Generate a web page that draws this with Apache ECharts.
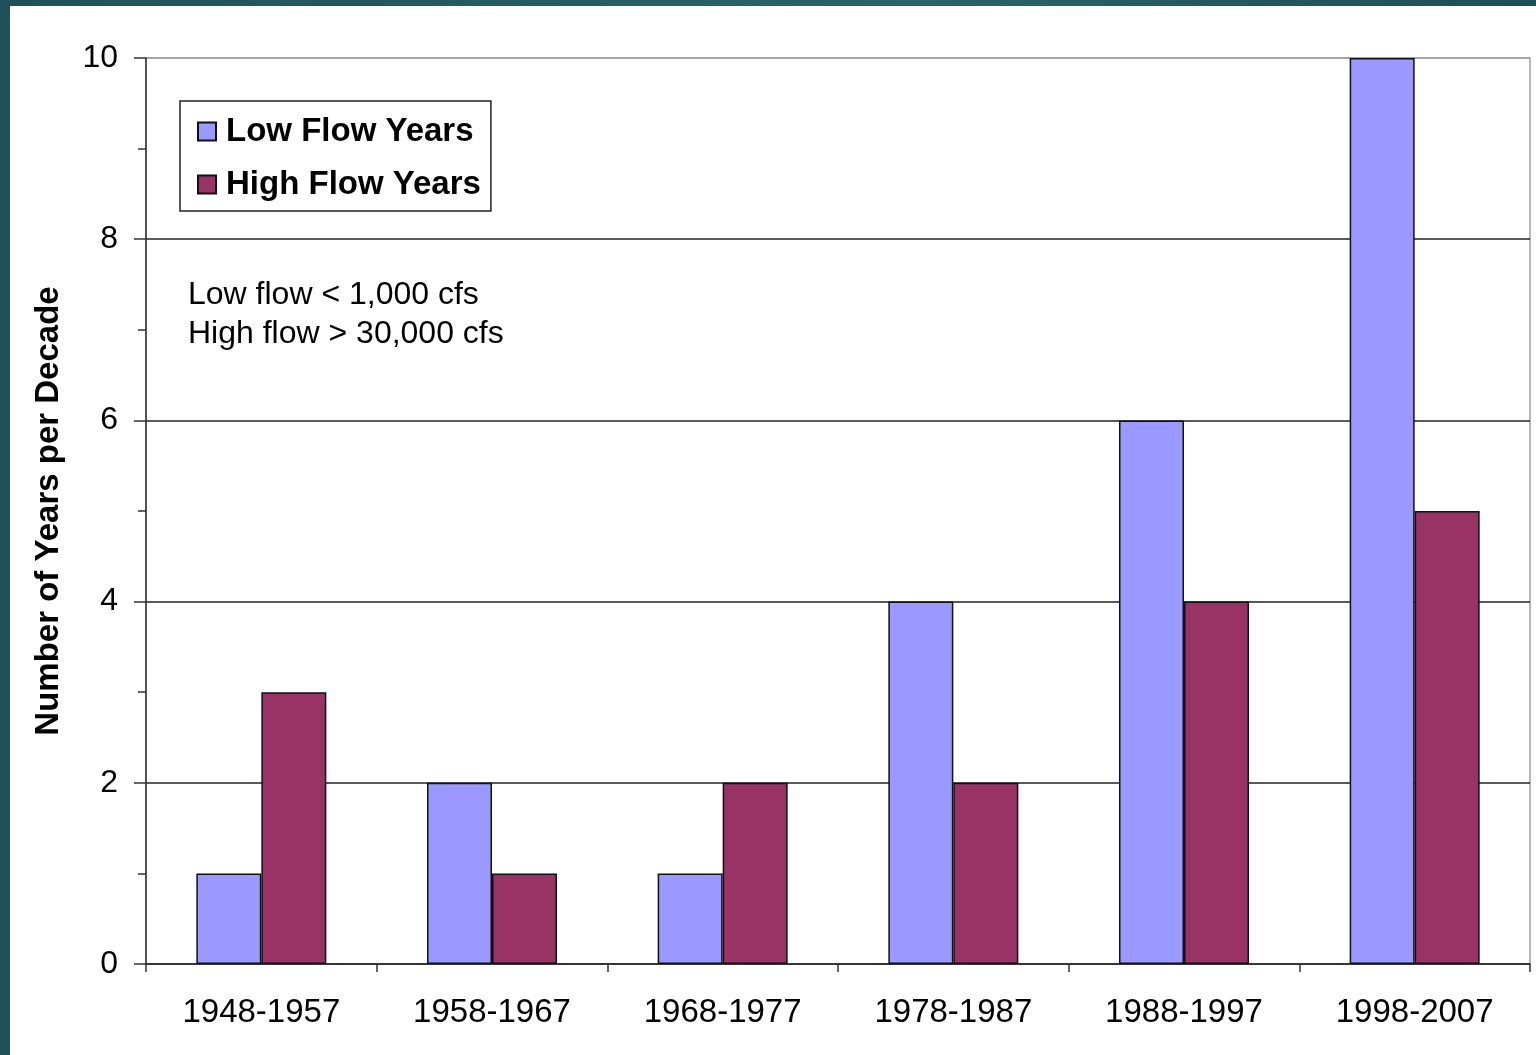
<!DOCTYPE html>
<html>
<head>
<meta charset="utf-8">
<script src="https://cdn.jsdelivr.net/npm/echarts@6/dist/echarts.min.js"></script>
<style>
  html, body { margin: 0; padding: 0; width: 1536px; height: 1055px; overflow: hidden; }
  body { background: linear-gradient(90deg, #1f5258 0%, #2a6466 60%, #1e4f55 100%); position: relative; }
  #chart { position: absolute; left: 10px; top: 6px; width: 1526px; height: 1049px; background: #ffffff; }
</style>
</head>
<body>
<div id="chart"></div>
<script>
// Decades on the category axis
const categories = ['1948-1957', '1958-1967', '1968-1977', '1978-1987', '1988-1997', '1998-2007'];
// Years per decade with low / high flow
const lowFlowYears = [1, 2, 1, 4, 6, 10];
const highFlowYears = [3, 1, 2, 2, 4, 5];
// Notes on the thresholds used
const noteLines = ['Low flow < 1,000 cfs', 'High flow > 30,000 cfs'];

const FONT = 'Arial, "Liberation Sans", Helvetica, sans-serif';

const chart = echarts.init(document.getElementById('chart'), null, { renderer: 'canvas' });

chart.setOption({
  animation: false,
  backgroundColor: '#ffffff',
  textStyle: { fontFamily: FONT, color: '#000' },
  grid: {
    left: 136, right: 6, top: 52, bottom: 91,
    show: true, borderColor: '#a0a0a0', borderWidth: 1.5, backgroundColor: '#ffffff'
  },
  legend: {
    orient: 'vertical',
    left: 170, top: 95,
    padding: [14, 10, 10, 17],
    itemGap: 20,
    itemWidth: 18, itemHeight: 18,
    borderColor: '#222', borderWidth: 1.5,
    backgroundColor: '#ffffff',
    icon: 'rect',
    textStyle: { fontFamily: FONT, fontSize: 33, fontWeight: 'bold', color: '#000', padding: [0, 0, 0, 5] },
    data: ['Low Flow Years', 'High Flow Years']
  },
  xAxis: {
    type: 'category',
    data: categories,
    boundaryGap: true,
    axisLine: { lineStyle: { color: '#333', width: 1.5 } },
    axisTick: { show: true, alignWithLabel: false, length: 8, lineStyle: { color: '#333', width: 1.5 } },
    axisLabel: { fontFamily: FONT, fontSize: 33, color: '#000', margin: 32, interval: 0 },
    splitLine: { show: false }
  },
  yAxis: {
    type: 'value',
    min: 0, max: 10, interval: 2,
    name: 'Number of Years per Decade',
    nameLocation: 'middle',
    nameGap: 81,
    nameRotate: 90,
    nameTextStyle: { fontFamily: FONT, fontSize: 33, fontWeight: 'bold', color: '#000' },
    axisLine: { show: true, lineStyle: { color: '#333', width: 1.5 } },
    axisTick: { show: true, length: 12, lineStyle: { color: '#333', width: 1.5 } },
    minorTick: { show: true, splitNumber: 2, length: 8, lineStyle: { color: '#333', width: 1.5 } },
    axisLabel: { fontFamily: FONT, fontSize: 32, color: '#000', margin: 28 },
    splitLine: {
      show: true,
      lineStyle: { color: ['#222', '#222', '#222', '#222', '#222', '#a0a0a0'], width: 1.5 }
    }
  },
  series: [
    {
      name: 'Low Flow Years',
      type: 'bar',
      data: lowFlowYears,
      barWidth: 65,
      barGap: '0%',
      itemStyle: { color: '#9999ff', borderColor: '#111', borderWidth: 1.5 }
    },
    {
      name: 'High Flow Years',
      type: 'bar',
      data: highFlowYears,
      barWidth: 65,
      barGap: '0%',
      itemStyle: { color: '#993366', borderColor: '#111', borderWidth: 1.5 }
    }
  ],
  graphic: [
    {
      type: 'text',
      left: 178,
      top: 270,
      z: 10,
      style: {
        text: noteLines.join('\n'),
        fontFamily: FONT,
        fontSize: 32,
        lineHeight: 39,
        fill: '#000'
      }
    }
  ]
});
</script>
</body>
</html>
